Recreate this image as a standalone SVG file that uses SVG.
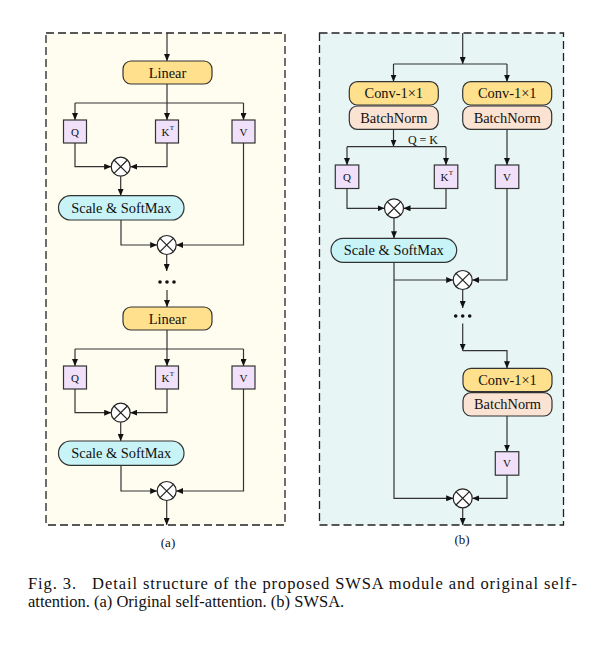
<svg xmlns="http://www.w3.org/2000/svg" width="589" height="648" viewBox="0 0 589 648">
<style>
.panel{stroke:#222;stroke-width:1.3;stroke-dasharray:8,4}
.box{stroke:#333;stroke-width:1.2}
.lin{fill:#FFE08C}
.bn{fill:#FBE3D4}
.sc{fill:#C8F4F8}
.qkv{fill:#F0E0FA}
.t{font-family:"Liberation Serif","Times New Roman",serif;fill:#111;text-anchor:middle;dominant-baseline:central}
.big{font-size:14.4px}
.sm{font-size:11px}
.c{fill:none;stroke:#333;stroke-width:1.2}
.a{marker-end:url(#ah)}
.cap{font-family:"Liberation Serif","Times New Roman",serif;font-size:16.5px;fill:#111}
</style>
<defs>
<marker id="ah" markerUnits="userSpaceOnUse" markerWidth="7" markerHeight="6" refX="7" refY="3" orient="auto">
<path d="M0,0 L7,3 L0,6 z" fill="#111"/>
</marker>
<g id="xm"><circle r="9.5" fill="#fff" stroke="#222" stroke-width="1.2"/><path d="M-6.7,-6.7 L6.7,6.7 M-6.7,6.7 L6.7,-6.7" stroke="#222" stroke-width="1.2"/></g>
</defs>
<rect x="0" y="0" width="589" height="648" fill="#fff"/>
<rect class="panel" x="46" y="33" width="239" height="492" fill="#FFFCF0"/>
<rect class="panel" x="319.5" y="33" width="244" height="492" fill="#E7F5F4"/>

<g id="connectors">
<path class="c a" d="M167,33 V61"/>
<path class="c" d="M167,84 V103 M75,103 H243.5"/>
<path class="c a" d="M75,103 V120"/>
<path class="c a" d="M167,103 V120"/>
<path class="c a" d="M243.5,103 V120"/>
<path class="c a" d="M75,143 V166.7 H111.2"/>
<path class="c a" d="M167,143 V166.7 H130.2"/>
<path class="c a" d="M120.7,176.2 V195.7"/>
<path class="c a" d="M121,220 V245 H157.2"/>
<path class="c a" d="M243.5,143 V245 H176.2"/>
<path class="c a" d="M166.7,254.5 V271"/>
<path class="c a" d="M167,290 V307"/>
<path class="c" d="M167,330 V349 M75,349 H243.5"/>
<path class="c a" d="M75,349 V366"/>
<path class="c a" d="M167,349 V366"/>
<path class="c a" d="M243.5,349 V366"/>
<path class="c a" d="M75,389 V412.7 H111.2"/>
<path class="c a" d="M167,389 V412.7 H130.2"/>
<path class="c a" d="M120.7,422.2 V441"/>
<path class="c a" d="M121,465 V491 H157.2"/>
<path class="c a" d="M243.5,389 V491 H176.2"/>
<path class="c a" d="M166.7,500.5 V525"/>
<path class="c a" d="M462.7,33 V64"/>
<path class="c" d="M393.5,64 H507"/>
<path class="c a" d="M393.5,64 V81.7"/>
<path class="c a" d="M507,64 V81.7"/>
<path class="c a" d="M393.5,129.3 V146.7"/>
<path class="c" d="M347,146.7 H446"/>
<path class="c a" d="M347,146.7 V165"/>
<path class="c a" d="M446,146.7 V165"/>
<path class="c a" d="M507,129.3 V165"/>
<path class="c a" d="M347,188.5 V208.3 H384.5"/>
<path class="c a" d="M446,188.5 V208.3 H403.5"/>
<path class="c a" d="M394,217.8 V238.3"/>
<path class="c a" d="M394,262.3 V498.3 H453.2"/>
<path class="c a" d="M394,280 H453.2"/>
<path class="c a" d="M507,188.5 V280 H472.2"/>
<path class="c a" d="M462.7,289.5 V308"/>
<path class="c a" d="M462.7,323.5 V350.7"/>
<path class="c a" d="M462.7,350.7 H507 V368.3"/>
<path class="c a" d="M507,416 V451.7"/>
<path class="c a" d="M507,475 V498.3 H472.2"/>
<path class="c a" d="M462.7,507.8 V525"/>
</g>

<g id="a-linear1"><rect class="box lin" x="123" y="61" width="89" height="23" rx="8"/><text class="t big" x="167.5" y="72.5">Linear</text></g>
<g id="a-q1"><rect class="box qkv" x="63.5" y="120" width="23" height="23"/><text class="t sm" x="75" y="131.5">Q</text></g>
<g id="a-k1"><rect class="box qkv" x="155.5" y="120" width="23" height="23"/><text class="t sm" x="165.5" y="131.5">K</text><text class="t" style="font-size:7px" x="171.8" y="127.5">T</text></g>
<g id="a-v1"><rect class="box qkv" x="232" y="120" width="23" height="23"/><text class="t sm" x="243.5" y="131.5">V</text></g>
<g id="a-mul1"><use href="#xm" x="120.7" y="166.7"/></g>
<g id="a-scale1"><rect class="box sc" x="58.5" y="195.7" width="125.5" height="24.3" rx="12"/><text class="t big" x="121.2" y="207.8">Scale &amp; SoftMax</text></g>
<g id="a-mul2"><use href="#xm" x="166.7" y="245"/></g>
<g id="a-dots" fill="#111"><circle cx="160" cy="282" r="1.8"/><circle cx="167" cy="282" r="1.8"/><circle cx="174" cy="282" r="1.8"/></g>
<g id="a-linear2"><rect class="box lin" x="123" y="307" width="89" height="23" rx="8"/><text class="t big" x="167.5" y="318.5">Linear</text></g>
<g id="a-q2"><rect class="box qkv" x="63.5" y="366" width="23" height="23"/><text class="t sm" x="75" y="377.5">Q</text></g>
<g id="a-k2"><rect class="box qkv" x="155.5" y="366" width="23" height="23"/><text class="t sm" x="165.5" y="377.5">K</text><text class="t" style="font-size:7px" x="171.8" y="373.5">T</text></g>
<g id="a-v2"><rect class="box qkv" x="232" y="366" width="23" height="23"/><text class="t sm" x="243.5" y="377.5">V</text></g>
<g id="a-mul3"><use href="#xm" x="120.7" y="412.7"/></g>
<g id="a-scale2"><rect class="box sc" x="58.5" y="441" width="125.5" height="24.3" rx="12"/><text class="t big" x="121.2" y="453.1">Scale &amp; SoftMax</text></g>
<g id="a-mul4"><use href="#xm" x="166.7" y="491"/></g>
<text class="t" style="font-size:13px" x="168" y="542">(a)</text>

<g id="b-conv1"><rect class="box lin" x="349.3" y="81.7" width="89" height="23.3" rx="8"/><text class="t big" x="393.8" y="93.3">Conv-1×1</text></g>
<g id="b-bn1"><rect class="box bn" x="349.3" y="106" width="89" height="23.3" rx="8"/><text class="t big" x="393.8" y="117.6">BatchNorm</text></g>
<g id="b-conv2"><rect class="box lin" x="462.7" y="81.7" width="89" height="23.3" rx="8"/><text class="t big" x="507.2" y="93.3">Conv-1×1</text></g>
<g id="b-bn2"><rect class="box bn" x="462.7" y="106" width="89" height="23.3" rx="8"/><text class="t big" x="507.2" y="117.6">BatchNorm</text></g>
<text class="t" style="font-size:12px" x="423" y="140">Q = K</text>
<g id="b-q"><rect class="box qkv" x="335.3" y="165" width="23.5" height="23.5"/><text class="t sm" x="347" y="176.7">Q</text></g>
<g id="b-k"><rect class="box qkv" x="434.3" y="165" width="23.5" height="23.5"/><text class="t sm" x="444.5" y="176.7">K</text><text class="t" style="font-size:7px" x="450.8" y="172.7">T</text></g>
<g id="b-v1"><rect class="box qkv" x="495.3" y="165" width="23.5" height="23.5"/><text class="t sm" x="507" y="176.7">V</text></g>
<g id="b-mul1"><use href="#xm" x="394" y="208.3"/></g>
<g id="b-scale"><rect class="box sc" x="331" y="238.3" width="125.7" height="24" rx="12"/><text class="t big" x="393.8" y="250.3">Scale &amp; SoftMax</text></g>
<g id="b-mul2"><use href="#xm" x="462.7" y="280"/></g>
<g id="b-dots" fill="#111"><circle cx="455.7" cy="316" r="1.8"/><circle cx="462.7" cy="316" r="1.8"/><circle cx="469.7" cy="316" r="1.8"/></g>
<g id="b-conv3"><rect class="box lin" x="463" y="368.3" width="89" height="23.3" rx="8"/><text class="t big" x="507.5" y="380">Conv-1×1</text></g>
<g id="b-bn3"><rect class="box bn" x="463" y="392.7" width="89" height="23.3" rx="8"/><text class="t big" x="507.5" y="404.3">BatchNorm</text></g>
<g id="b-v2"><rect class="box qkv" x="495.3" y="451.7" width="23.5" height="23.5"/><text class="t sm" x="507" y="463.4">V</text></g>
<g id="b-mul3"><use href="#xm" x="462.7" y="498.3"/></g>
<text class="t" style="font-size:13px" x="462" y="539">(b)</text>

<text class="cap" x="28" y="589" textLength="549" lengthAdjust="spacing" xml:space="preserve">Fig. 3.   Detail structure of the proposed SWSA module and original self-</text>
<text class="cap" x="28" y="607">attention. (a) Original self-attention. (b) SWSA.</text>
</svg>
